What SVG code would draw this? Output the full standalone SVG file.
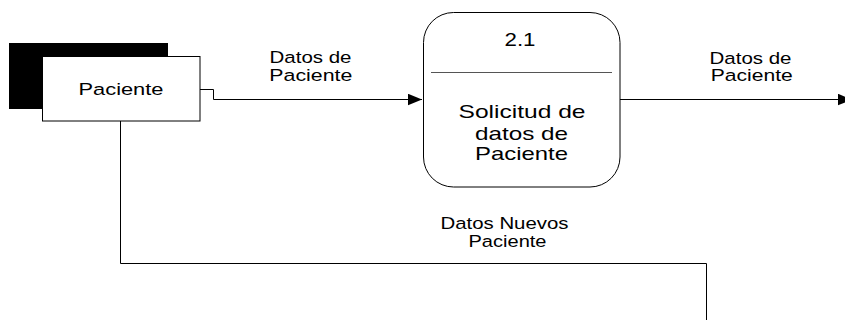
<svg xmlns="http://www.w3.org/2000/svg" width="845" height="320" viewBox="0 0 845 320">
<defs>
<style>
text{font-family:"Liberation Sans",Arial,sans-serif;fill:#000;text-anchor:middle}
.lbl{font-size:16.3px}
.proc{font-size:18.4px}
.flow{fill:none;stroke:#000;stroke-width:1}
</style>
<marker id="arr" markerUnits="userSpaceOnUse" markerWidth="14" markerHeight="12" refX="14" refY="5.75" orient="auto">
<path d="M0,0 L14,5.75 L0,11.5 Z" fill="#000"/>
</marker>
</defs>
<rect width="845" height="320" fill="#fff"/>
<g id="paciente">
<rect x="9" y="43" width="159" height="66" fill="#000"/>
<rect x="42.5" y="56.5" width="157.5" height="64.5" fill="#fff" stroke="#000" stroke-width="1"/>
<text x="121" y="95" font-size="16.3" textLength="85" lengthAdjust="spacingAndGlyphs">Paciente</text>
</g>
<g id="proceso-2-1">
<rect x="423.5" y="12.5" width="196.5" height="174.5" rx="30" ry="30" fill="#fff" stroke="#000" stroke-width="1"/>
<line x1="431" y1="72.5" x2="612" y2="72.5" stroke="#555" stroke-width="1"/>
<text class="proc" x="520" y="45.7" textLength="31" lengthAdjust="spacingAndGlyphs">2.1</text>
<text class="proc" x="522" y="118.3" textLength="127" lengthAdjust="spacingAndGlyphs">Solicitud de</text>
<text class="proc" x="521.5" y="139.5" textLength="93" lengthAdjust="spacingAndGlyphs">datos de</text>
<text class="proc" x="521.5" y="160" textLength="93" lengthAdjust="spacingAndGlyphs">Paciente</text>
</g>
<g id="connectors">
<polyline class="flow" points="200,89.5 213.5,89.5 213.5,99.5 422,99.5" marker-end="url(#arr)"/>
<polyline class="flow" points="620,99.5 852,99.5" marker-end="url(#arr)"/>
<polyline class="flow" points="120.5,121 120.5,263.5 706.5,263.5 706.5,320"/>
<text class="lbl" x="310.5" y="63.3" textLength="82" lengthAdjust="spacingAndGlyphs">Datos de</text>
<text class="lbl" x="310.8" y="80.5" textLength="83" lengthAdjust="spacingAndGlyphs">Paciente</text>
<text class="lbl" x="750.5" y="64" textLength="82" lengthAdjust="spacingAndGlyphs">Datos de</text>
<text class="lbl" x="751.8" y="81" textLength="82" lengthAdjust="spacingAndGlyphs">Paciente</text>
<text class="lbl" x="504.5" y="229.3" textLength="128" lengthAdjust="spacingAndGlyphs">Datos Nuevos</text>
<text class="lbl" x="507.5" y="247.3" textLength="78" lengthAdjust="spacingAndGlyphs">Paciente</text>
</g>
</svg>
